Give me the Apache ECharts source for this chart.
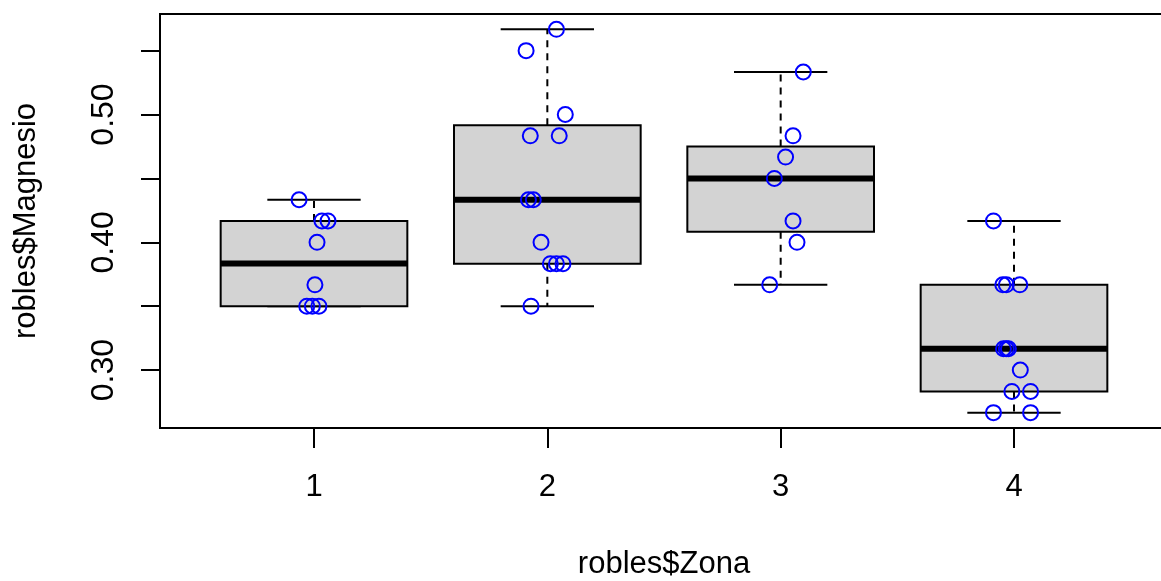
<!DOCTYPE html>
<html><head><meta charset="utf-8">
<script src="https://cdn.jsdelivr.net/npm/echarts@6/dist/echarts.min.js"></script>
<style>html,body{margin:0;padding:0;background:#fff}#c{width:1161px;height:581px}</style>
</head><body><div id="c"></div>
<script>
// Categories (Zona)
const zones = [1, 2, 3, 4];
// Magnesio values per zone
const zone1Values = [0.4333, 0.4167, 0.4167, 0.4000, 0.3667, 0.3500, 0.3500, 0.3500];
const zone2Values = [0.5667, 0.5500, 0.5000, 0.4833, 0.4833, 0.4333, 0.4333, 0.4000, 0.3833, 0.3833, 0.3833, 0.3500];
const zone3Values = [0.5333, 0.4833, 0.4667, 0.4500, 0.4167, 0.4000, 0.3667];
const zone4Values = [0.4167, 0.3667, 0.3667, 0.3667, 0.3167, 0.3167, 0.3167, 0.3000, 0.2833, 0.2833, 0.2667, 0.2667];
// Horizontal jitter of each point
const zone1Jitter = [-0.064, 0.034, 0.060, 0.013, 0.004, -0.031, -0.007, 0.021];
const zone2Jitter = [0.039, -0.091, 0.077, -0.073, 0.051, -0.081, -0.060, -0.027, 0.013, 0.039, 0.067, -0.070];
const zone3Jitter = [0.097, 0.053, 0.021, -0.027, 0.053, 0.070, -0.047];
const zone4Jitter = [-0.088, -0.048, -0.033, 0.025, -0.045, -0.033, -0.024, 0.027, -0.009, 0.071, -0.088, 0.071];
// Axis ticks
const yTicks = [0.30, 0.35, 0.40, 0.45, 0.50, 0.55];
const yTickLabels = [0.30, 0.40, 0.50];
const xTicks = [1, 2, 3, 4];

const allValues = [zone1Values, zone2Values, zone3Values, zone4Values];
const allJitter = [zone1Jitter, zone2Jitter, zone3Jitter, zone4Jitter];

// R boxplot.stats (fivenum hinges + 1.5 IQR whiskers)
function boxStats(vals) {
  const x = vals.slice().sort((a, b) => a - b);
  const n = x.length;
  const n4 = Math.floor((n + 3) / 2) / 2;
  const d = [1, n4, (n + 1) / 2, n + 1 - n4, n];
  const f = d.map(v => 0.5 * (x[Math.floor(v) - 1] + x[Math.ceil(v) - 1]));
  const iqr = f[3] - f[1];
  const lo = Math.min(...x.filter(v => v >= f[1] - 1.5 * iqr));
  const hi = Math.max(...x.filter(v => v <= f[3] + 1.5 * iqr));
  return [lo, f[1], f[2], f[3], hi];
}

const boxData = zones.map((z, i) => [z].concat(boxStats(allValues[i])));
const pointData = [];
zones.forEach((z, i) => {
  allValues[i].forEach((v, j) => pointData.push([z + allJitter[i][j], v]));
});

const FONT = 'Liberation Sans, Arial, Helvetica, sans-serif';
const chart = echarts.init(document.getElementById('c'));
chart.setOption({
  animation: false,
  backgroundColor: '#fff',
  grid: { left: 160, top: 14, right: -7, bottom: 153, show: true, borderColor: '#000', borderWidth: 2,
    backgroundColor: 'transparent', outerBoundsMode: 'none', containLabel: false },
  xAxis: {
    type: 'value', min: 0.34, max: 4.66,
    splitLine: { show: false },
    axisLine: { show: false },
    axisTick: { show: true, customValues: xTicks, length: 20, lineStyle: { color: '#000', width: 2 } },
    axisLabel: { customValues: xTicks, fontSize: 31, color: '#000', fontFamily: FONT, margin: 44 },
    name: 'robles$Zona', nameLocation: 'middle', nameGap: 121,
    nameTextStyle: { fontSize: 31, color: '#000', fontFamily: FONT }
  },
  yAxis: {
    type: 'value', min: 0.25467, max: 0.57867,
    splitLine: { show: false },
    axisLine: { show: false },
    axisTick: { show: true, customValues: yTicks, length: 19, lineStyle: { color: '#000', width: 2 } },
    axisLabel: { customValues: yTickLabels, rotate: 90, fontSize: 32, color: '#000', fontFamily: FONT, margin: 40,
      formatter: v => Number(v).toFixed(2) },
    name: 'robles$Magnesio', nameLocation: 'middle', nameGap: 118,
    nameTextStyle: { fontSize: 31, color: '#000', fontFamily: FONT }
  },
  series: [
    {
      type: 'custom',
      data: boxData,
      encode: { x: 0, y: [1, 2, 3, 4, 5] },
      z: 2,
      renderItem: function (params, api) {
        const x = api.value(0);
        const lo = api.value(1), q1 = api.value(2), med = api.value(3), q3 = api.value(4), hi = api.value(5);
        const c = (a, b) => api.coord([a, b]);
        const tl = c(x - 0.4, q3), br = c(x + 0.4, q1);
        const mL = c(x - 0.4, med), mR = c(x + 0.4, med);
        const wTop = c(x, hi), wQ3 = c(x, q3), wQ1 = c(x, q1), wBot = c(x, lo);
        const sTL = c(x - 0.2, hi), sTR = c(x + 0.2, hi), sBL = c(x - 0.2, lo), sBR = c(x + 0.2, lo);
        const dash = { stroke: '#000', lineWidth: 2, lineDash: [7, 6], fill: null };
        const solid = { stroke: '#000', lineWidth: 2, fill: null };
        return {
          type: 'group',
          children: [
            { type: 'line', shape: { x1: wQ3[0], y1: wQ3[1], x2: wTop[0], y2: wTop[1] }, style: dash },
            { type: 'line', shape: { x1: wQ1[0], y1: wQ1[1], x2: wBot[0], y2: wBot[1] }, style: dash },
            { type: 'line', shape: { x1: sTL[0], y1: sTL[1], x2: sTR[0], y2: sTR[1] }, style: solid },
            { type: 'line', shape: { x1: sBL[0], y1: sBL[1], x2: sBR[0], y2: sBR[1] }, style: solid },
            { type: 'rect', shape: { x: tl[0], y: tl[1], width: br[0] - tl[0], height: br[1] - tl[1] },
              style: { fill: '#D3D3D3', stroke: '#000', lineWidth: 2 } },
            { type: 'line', shape: { x1: mL[0], y1: mL[1], x2: mR[0], y2: mR[1] },
              style: { stroke: '#000', lineWidth: 6, fill: null } }
          ]
        };
      }
    },
    {
      type: 'scatter',
      data: pointData,
      z: 3,
      symbol: 'circle',
      symbolSize: 15,
      itemStyle: { color: 'transparent', borderColor: '#0000FF', borderWidth: 2, opacity: 1 }
    }
  ]
});
</script></body></html>
